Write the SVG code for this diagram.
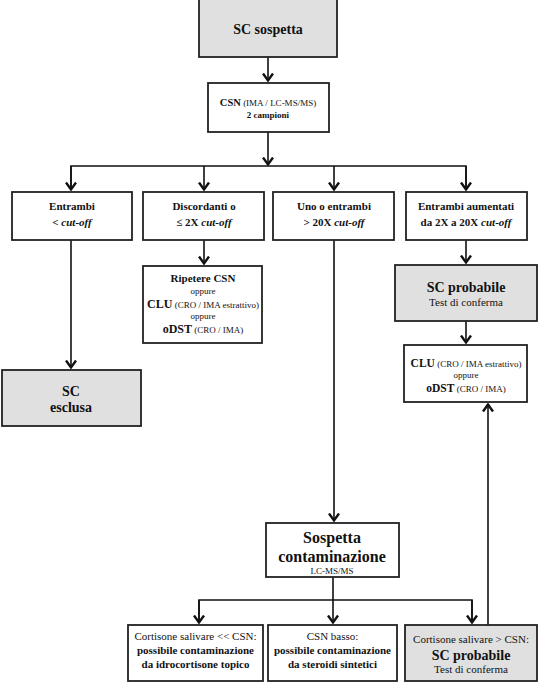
<svg xmlns="http://www.w3.org/2000/svg" width="540" height="683" viewBox="0 0 540 683" font-family="'Liberation Serif', 'DejaVu Serif', serif">
<defs>
<marker id="ah" viewBox="-1 -6 10 12" refX="7.5" refY="0" markerWidth="10" markerHeight="12" markerUnits="userSpaceOnUse" orient="auto">
<path d="M0,-5 L7,0 L0,5" fill="none" stroke="#111" stroke-width="2.4"/>
</marker>
<style>
.box{fill:#fff;stroke:#222;stroke-width:1.8}
.gray{fill:#e0e0e0;stroke:#222;stroke-width:1.8}
.ln{fill:none;stroke:#111;stroke-width:1.6}
.arr{marker-end:url(#ah)}
text{font-family:'Liberation Serif','DejaVu Serif',serif;fill:#111;text-anchor:middle}
.b{font-weight:bold}
.bi{font-weight:bold;font-style:italic}
</style>
</defs>
<g id="connectors">
<line class="ln arr" x1="268" y1="57" x2="268" y2="81"/>
<line class="ln arr" x1="268" y1="132" x2="268" y2="165"/>
<polyline class="ln" points="71,189 71,166 466,166 466,189"/>
<line class="ln arr" x1="71" y1="166" x2="71" y2="190"/>
<line class="ln arr" x1="204" y1="166" x2="204" y2="190"/>
<line class="ln arr" x1="334" y1="166" x2="334" y2="190"/>
<line class="ln arr" x1="466" y1="166" x2="466" y2="190"/>
<line class="ln arr" x1="204" y1="240" x2="204" y2="264"/>
<line class="ln arr" x1="71" y1="240" x2="71" y2="368"/>
<line class="ln arr" x1="334" y1="240" x2="334" y2="521"/>
<line class="ln arr" x1="466" y1="240" x2="466" y2="263"/>
<line class="ln arr" x1="466" y1="321" x2="466" y2="343"/>
<line class="ln arr" x1="333" y1="577" x2="333" y2="623"/>
<polyline class="ln" points="199,623 199,600 472,600 472,623"/>
<line class="ln arr" x1="199" y1="600" x2="199" y2="623"/>
<line class="ln arr" x1="472" y1="600" x2="472" y2="623"/>
<line class="ln arr" x1="488" y1="625" x2="488" y2="404"/>
</g>
<g id="n_sospetta">
<rect class="gray" x="199" y="-1" width="138" height="58"/>
<text x="268" y="34" class="b" font-size="14">SC sospetta</text>
</g>
<g id="n_csn">
<rect class="box" x="208" y="83" width="121" height="49"/>
<text x="268" y="106" font-size="9"><tspan class="b" font-size="10.5">CSN</tspan> (IMA / LC-MS/MS)</text>
<text x="268" y="118" class="b" font-size="9">2 campioni</text>
</g>
<g id="n_entrambi">
<rect class="box" x="12" y="192" width="120" height="48"/>
<text x="72" y="210" class="b" font-size="11">Entrambi</text>
<text x="72" y="226" class="b" font-size="11">&lt; <tspan class="bi">cut-off</tspan></text>
</g>
<g id="n_discordanti">
<rect class="box" x="143" y="192" width="121" height="48"/>
<text x="204" y="210" class="b" font-size="11">Discordanti o</text>
<text x="204" y="226" class="b" font-size="11">≤ 2X <tspan class="bi">cut-off</tspan></text>
</g>
<g id="n_uno">
<rect class="box" x="273" y="192" width="121" height="48"/>
<text x="334" y="210" class="b" font-size="11">Uno o entrambi</text>
<text x="334" y="226" class="b" font-size="11">&gt; 20X <tspan class="bi">cut-off</tspan></text>
</g>
<g id="n_aumentati">
<rect class="box" x="406" y="192" width="121" height="48"/>
<text x="466" y="210" class="b" font-size="11">Entrambi aumentati</text>
<text x="466" y="226" class="b" font-size="11">da 2X a 20X <tspan class="bi">cut-off</tspan></text>
</g>
<g id="n_ripetere">
<rect class="box" x="143" y="266" width="119" height="77"/>
<text x="203" y="282" class="b" font-size="11">Ripetere CSN</text>
<text x="203" y="294" font-size="9">oppure</text>
<text x="203" y="308" font-size="9"><tspan class="b" font-size="12">CLU</tspan> (CRO / IMA estrattivo)</text>
<text x="203" y="319" font-size="9">oppure</text>
<text x="203" y="333" font-size="9"><tspan class="b" font-size="12">oDST</tspan> (CRO / IMA)</text>
</g>
<g id="n_esclusa">
<rect class="gray" x="2" y="370" width="139" height="56"/>
<text x="71" y="396" class="b" font-size="14">SC</text>
<text x="71" y="412" class="b" font-size="14">esclusa</text>
</g>
<g id="n_probabile">
<rect class="gray" x="395" y="265" width="142" height="56"/>
<text x="466" y="292" class="b" font-size="14">SC probabile</text>
<text x="466" y="306" font-size="11">Test di conferma</text>
</g>
<g id="n_clu">
<rect class="box" x="404" y="345" width="123" height="57"/>
<text x="466" y="367" font-size="9"><tspan class="b" font-size="11.5">CLU</tspan> (CRO / IMA estrattivo)</text>
<text x="466" y="378" font-size="9">oppure</text>
<text x="466" y="392" font-size="9"><tspan class="b" font-size="11.5">oDST</tspan> (CRO / IMA)</text>
</g>
<g id="n_contaminazione">
<rect class="box" x="266" y="523" width="133" height="54"/>
<text x="332" y="543" class="b" font-size="16">Sospetta</text>
<text x="332" y="562" class="b" font-size="16">contaminazione</text>
<text x="332" y="574" font-size="9">LC-MS/MS</text>
</g>
<g id="n_idrocortisone">
<rect class="box" x="128" y="625" width="135" height="56"/>
<text x="195.5" y="640" font-size="11">Cortisone salivare &lt;&lt; CSN:</text>
<text x="195.5" y="654" class="b" font-size="11">possibile contaminazione</text>
<text x="195.5" y="668" class="b" font-size="11">da idrocortisone topico</text>
</g>
<g id="n_sintetici">
<rect class="box" x="268" y="625" width="129" height="56"/>
<text x="332.5" y="640" font-size="11">CSN basso:</text>
<text x="332.5" y="654" class="b" font-size="11">possibile contaminazione</text>
<text x="332.5" y="668" class="b" font-size="11">da steroidi sintetici</text>
</g>
<g id="n_probabile2">
<rect class="gray" x="405" y="625" width="132" height="56"/>
<text x="471" y="643" font-size="11">Cortisone salivare &gt; CSN:</text>
<text x="471" y="660" class="b" font-size="14">SC probabile</text>
<text x="471" y="673" font-size="11">Test di conferma</text>
</g>
</svg>
